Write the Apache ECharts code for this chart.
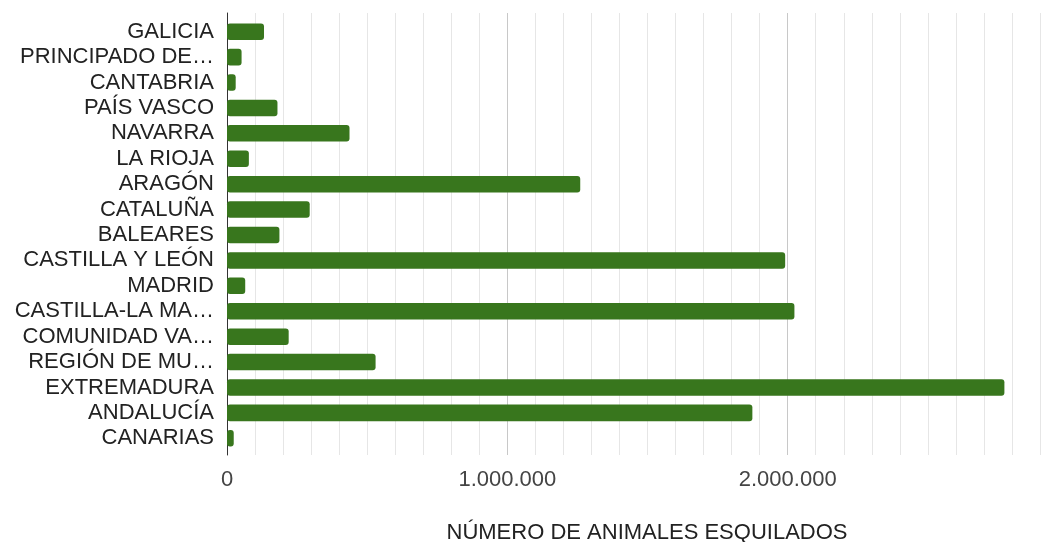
<!DOCTYPE html>
<html>
<head>
<meta charset="utf-8">
<script src="https://cdn.jsdelivr.net/npm/echarts@6/dist/echarts.min.js"></script>
<style>
  html, body { margin: 0; padding: 0; background: #ffffff; }
  #chart { width: 1058px; height: 542px; }
</style>
</head>
<body>
<div id="chart"></div>
<script>
// Data
var categories = [
  'GALICIA', 'PRINCIPADO DE ASTURIAS', 'CANTABRIA', 'PAÍS VASCO', 'NAVARRA',
  'LA RIOJA', 'ARAGÓN', 'CATALUÑA', 'BALEARES', 'CASTILLA Y LEÓN', 'MADRID',
  'CASTILLA-LA MANCHA', 'COMUNIDAD VALENCIANA', 'REGIÓN DE MURCIA',
  'EXTREMADURA', 'ANDALUCÍA', 'CANARIAS'
];
var animalesEsquilados = [
  132000, 52000, 31000, 180000, 437000,
  78000, 1260000, 295000, 187000, 1991000, 65000,
  2024000, 220000, 530000,
  2773000, 1874000, 24000
];
var tickLabels = { 0: '0', 1000000: '1.000.000', 2000000: '2.000.000' };
var axisTitle = 'NÚMERO DE ANIMALES ESQUILADOS';

var FONT = '"Liberation Sans", Arial, sans-serif';
var LABEL_SIZE = 22;
var LABEL_MAX_W = 200.5;

// Truncate a category label to fit the label column, ending with an ellipsis
var measureCtx = document.createElement('canvas').getContext('2d');
measureCtx.font = LABEL_SIZE + 'px ' + FONT;
function fitLabel(s) {
  if (measureCtx.measureText(s).width <= LABEL_MAX_W) return s;
  for (var n = s.length - 1; n > 0; n--) {
    var t = s.slice(0, n).replace(/\s+$/, '') + '…';
    if (measureCtx.measureText(t).width <= LABEL_MAX_W) return t;
  }
  return '…';
}

var minorColor = '#e6e6e6';
var majorColor = '#c8c8c8';
var splitColors = [majorColor];
for (var i = 0; i < 9; i++) splitColors.push(minorColor);

var chart = echarts.init(document.getElementById('chart'), null, { renderer: 'canvas' });
chart.setOption({
  backgroundColor: '#ffffff',
  animation: false,
  grid: [
    { left: 227, right: 18, top: 13, bottom: 87, containLabel: false, outerBoundsMode: 'none' },
    { left: 227, right: 18, top: 19, bottom: 91, containLabel: false, outerBoundsMode: 'none' }
  ],
  xAxis: [
    {
      type: 'value', gridIndex: 0, min: 0, max: 2900000, interval: 100000,
      name: axisTitle, nameLocation: 'middle', nameGap: 67,
      nameTextStyle: { fontFamily: FONT, fontSize: 22, color: '#222222', padding: [0, 0, 0, 27] },
      axisLine: { show: false }, axisTick: { show: false },
      axisLabel: {
        fontFamily: FONT, fontSize: 22, color: '#444444', margin: 14,
        formatter: function (v) { return tickLabels.hasOwnProperty(v) ? tickLabels[v] : ''; }
      },
      splitLine: { show: true, lineStyle: { color: splitColors, width: 1 } }
    },
    {
      type: 'value', gridIndex: 1, min: 0, max: 2900000, show: false,
      splitLine: { show: false }
    }
  ],
  yAxis: [
    {
      type: 'value', gridIndex: 0,
      axisLine: { show: true, lineStyle: { color: '#333333', width: 1 } },
      axisTick: { show: false }, axisLabel: { show: false }, splitLine: { show: false }
    },
    {
      type: 'category', gridIndex: 1, inverse: true, data: categories,
      axisLine: { show: false }, axisTick: { show: false }, splitLine: { show: false },
      axisLabel: {
        interval: 0, fontFamily: FONT, fontSize: LABEL_SIZE, color: '#222222', margin: 13,
        formatter: function (v) { return fitLabel(v); }
      }
    }
  ],
  series: [{
    type: 'bar', xAxisIndex: 1, yAxisIndex: 1,
    data: animalesEsquilados,
    barCategoryGap: '35%',
    itemStyle: { color: '#38761d', borderRadius: 3 }
  }]
});
</script>
</body>
</html>
